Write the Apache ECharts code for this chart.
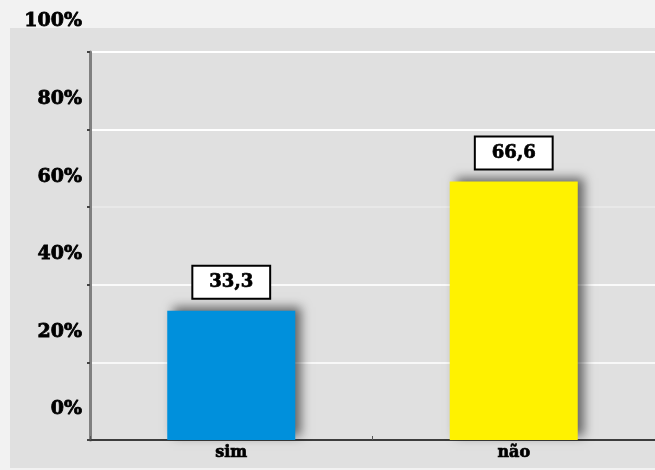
<!DOCTYPE html>
<html>
<head>
<meta charset="utf-8">
<script src="https://cdn.jsdelivr.net/npm/echarts@6/dist/echarts.min.js"></script>
<style>
  html, body { margin: 0; padding: 0; background: #f2f2f2; }
  #main { width: 655px; height: 470px; }
</style>
</head>
<body>
<div id="main"></div>
<script type="text/javascript">
    // dados do gráfico
    var categorias = ['sim', 'não'];
    var valores = [33.3, 66.6];
    var cores = ['#0090dc', '#fff200'];
    var yMin = 0, yMax = 100, yPasso = 20;

    var fonte = '"DejaVu Serif", serif';

    var myChart = echarts.init(document.getElementById('main'));

    var option = {
        backgroundColor: '#f2f2f2',
        animation: false,
        graphic: [{
            type: 'rect',
            z: -10,
            shape: { x: 10, y: 28, width: 660, height: 440 },
            style: { fill: '#e0e0e0' }
        }],
        grid: {
            left: 90,
            right: -1,
            top: 52,
            bottom: 30
        },
        xAxis: {
            type: 'category',
            data: categorias,
            axisLine: { lineStyle: { color: '#3c3c3c', width: 2 } },
            axisTick: { show: true, alignWithLabel: false, length: -4, lineStyle: { color: '#555' } },
            axisLabel: {
                margin: 5,
                fontFamily: fonte,
                fontWeight: 'bold',
                fontSize: 16,
                color: '#000',
                textBorderColor: '#000',
                textBorderWidth: 0.7
            }
        },
        yAxis: {
            type: 'value',
            min: yMin,
            max: yMax,
            interval: yPasso,
            axisLine: { show: true, lineStyle: { color: '#808080', width: 3 } },
            axisTick: { show: true, length: 3, lineStyle: { color: '#444', width: 2 } },
            splitLine: {
                lineStyle: {
                    color: ['#e0e0e0', '#f8f8f8', '#fafafa', '#e8e8e8', '#ffffff', '#ffffff'],
                    width: 2
                }
            },
            axisLabel: {
                margin: 8,
                fontFamily: fonte,
                fontWeight: 'bold',
                fontSize: 19,
                color: '#000',
                textBorderColor: '#000',
                textBorderWidth: 0.8,
                verticalAlign: 'bottom',
                padding: [0, 0, 21, 0],
                formatter: function (v) { return v + '%'; }
            }
        },
        series: [{
            type: 'bar',
            barWidth: 128,
            data: valores.map(function (v, i) {
                return { value: v, itemStyle: { color: cores[i] } };
            }),
            itemStyle: {
                shadowColor: 'rgba(0,0,0,0.55)',
                shadowBlur: 10,
                shadowOffsetX: 6,
                shadowOffsetY: -4
            },
            label: {
                show: true,
                position: 'top',
                distance: 13,
                fontFamily: fonte,
                fontWeight: 'bold',
                fontSize: 18,
                color: '#000',
                textBorderColor: '#000',
                textBorderWidth: 0.7,
                backgroundColor: '#fff',
                borderColor: '#000',
                borderWidth: 2,
                padding: [7, 16, 6, 16],
                formatter: function (p) { return String(p.value).replace('.', ','); }
            }
        }]
    };

    myChart.setOption(option);
</script>
</body>
</html>
